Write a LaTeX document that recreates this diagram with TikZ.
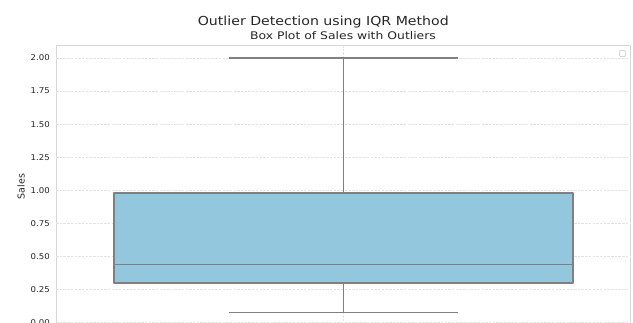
\documentclass[tikz,border=0pt]{standalone}
\usepackage{fontspec}
\setmainfont{DejaVu Sans}
\definecolor{boxfill}{HTML}{93C7DE}
\definecolor{boxedge}{HTML}{808080}
\definecolor{gridgray}{HTML}{E2E2E2}
\definecolor{framegray}{HTML}{D6D6D6}
\definecolor{inkgray}{HTML}{262626}
\tikzset{
  gridline/.style={gridgray,line width=0.7pt,dash pattern=on 2.5pt off 1.2pt},
  ticklabel/.style={inkgray,font=\fontsize{8}{9}\selectfont,xscale=1.07,anchor=east,inner sep=0pt},
  whisker/.style={boxedge,line width=1.4pt}
}
\begin{document}
\begin{tikzpicture}[x=1pt,y=-1pt,line join=round,line cap=butt]
\useasboundingbox (0,0) rectangle (633,322);
\clip (0,0) rectangle (633,322);
% axes frame and grid
\draw[framegray,line width=0.9pt] (56,340) coordinate(fbl) -- (56,45) -- (630,45) -- (630,340);
\foreach \lab/\v in {0.00/0,0.25/0.25,0.50/0.5,0.75/0.75,1.00/1,1.25/1.25,1.50/1.5,1.75/1.75,2.00/2}{
\pgfmathsetmacro{\yy}{322.8-132.4*\v}
\draw[gridline] (56,\yy) -- (630,\yy);
\node[ticklabel] (t\lab) at (50,\yy) {\lab};
}
\draw[gridline] (343.5,45) -- (343.5,340);
% box
\pgfmathsetmacro{\yq}{322.8-132.4*0.98}
\pgfmathsetmacro{\yp}{322.8-132.4*0.30}
\pgfmathsetmacro{\ym}{322.8-132.4*0.44}
\pgfmathsetmacro{\yt}{322.8-132.4*2.00}
\pgfmathsetmacro{\yb}{322.8-132.4*0.08}
\coordinate (q3) at (343.5,\yq);
\coordinate (q1) at (343.5,\yp);
\coordinate (hi) at (343.5,\yt);
\coordinate (lo) at (343.5,\yb);
\filldraw[fill=boxfill,draw=boxedge,line width=1.4pt] (114,\yp) rectangle (573,\yq);
\draw[whisker] (114,\ym) -- (573,\ym);
\draw[whisker] (hi) -- (q3);
\draw[whisker] (q1) -- (lo);
\draw[whisker] ([xshift=-114.5pt]hi) -- ([xshift=114.5pt]hi);
\draw[whisker] ([xshift=-114.5pt]lo) -- ([xshift=114.5pt]lo);
% legend stub
\draw[framegray,line width=0.8pt,rounded corners=1pt] (619.5,50.5) rectangle (625.5,56.5);
% titles
\node[inkgray,font=\fontsize{12.4}{14}\selectfont,xscale=1.14,anchor=base] (title) at (323.3,25.5) {Outlier Detection using IQR Method};
\node[inkgray,font=\fontsize{10.5}{12}\selectfont,xscale=1.18,anchor=base] (subtitle) at (343,39) {Box Plot of Sales with Outliers};
\node[inkgray,font=\fontsize{9.5}{11}\selectfont,rotate=90,anchor=base] (ylab) at (24.5,186.5) {Sales};
\end{tikzpicture}
\end{document}
